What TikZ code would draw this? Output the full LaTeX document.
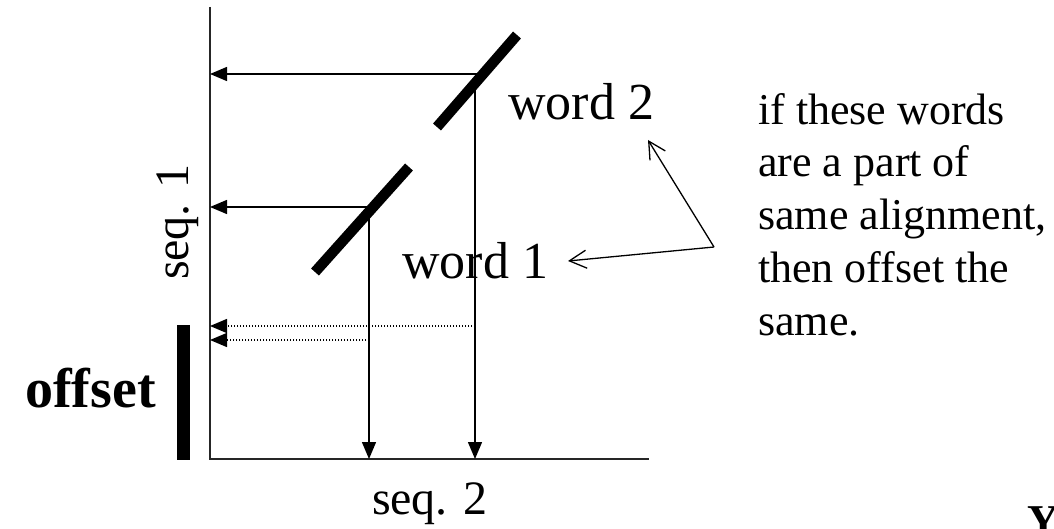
\documentclass[tikz,border=0pt]{standalone}
\usepackage{fontspec}
\setmainfont{Liberation Serif}
\usetikzlibrary{arrows.meta}
\tikzset{
  axisline/.style={line width=2pt, draw=black!85},
  arr/.style={line width=1.4pt, -{Triangle[length=17pt,width=14pt]}},
  dotarr/.style={line width=1.4pt, dash pattern=on 1.4pt off 1.6pt, -{Triangle[length=17pt,width=14pt]}},
  slash/.style={line width=10.5pt},
  note/.style={line width=1.3pt, -{Straight Barb[length=17pt,width=18pt,line width=1.3pt]}},
  lbl/.style={inner sep=0pt, anchor=base west},
}
\begin{document}
\begin{tikzpicture}[x=1pt,y=-1pt]
\useasboundingbox (0,0) rectangle (1054,529);
% axes
\coordinate (o) at (210,459);
\coordinate (ytop) at (210,7);
\coordinate (xend) at (649,459);
\draw[axisline] (ytop) -- (o) -- (xend);
% word hit points
\coordinate (w2) at (477,74);
\coordinate (w2v) at (475,80);
\coordinate (w1) at (368,207);
\coordinate (w1v) at (369,212);
% projections
\draw[arr] (w2) -- (w2 -| o);
\draw[arr] (w1) -- (w1 -| o);
\draw[arr] (w2v) -- (w2v |- o);
\draw[arr] (w1v) -- (w1v |- o);
\coordinate (d2) at (475,326);
\coordinate (d1) at (369,340);
\draw[dotarr] (d2) -- (d2 -| o);
\draw[dotarr] (d1) -- (d1 -| o);
% word slashes
\coordinate (s2a) at (437,127);
\coordinate (s2b) at (517,35);
\coordinate (s1a) at (315,272);
\coordinate (s1b) at (409,167);
\draw[slash] (s2a) -- (s2b);
\draw[slash] (s1a) -- (s1b);
% labels
\node[lbl, font=\fontsize{52}{60}\selectfont] (word2) at (508,120) {word 2};
\node[lbl, font=\fontsize{52}{60}\selectfont] (word1) at (402,278) {word 1};
\node[inner sep=0pt, anchor=base, rotate=90, font=\fontsize{48}{56}\selectfont] (seq1) at (188,222) {seq. 1};
\node[inner sep=0pt, anchor=base, font=\fontsize{48}{56}\selectfont] (seq2) at (430,514) {seq. 2};
\node[inner sep=0pt, anchor=base east, font=\fontsize{56}{64}\selectfont\bfseries] (offs) at (156,407) {offset};
\fill (177,325) rectangle (190,460);
\node[lbl, font=\fontsize{44}{52}\selectfont\bfseries] (Y) at (1027,535) {Y};
% note text
\node[lbl, font=\fontsize{44}{52}\selectfont] (p1) at (758,125) {if these words};
\node[lbl, font=\fontsize{44}{52}\selectfont] (p2) at (758,177) {are a part of};
\node[lbl, font=\fontsize{44}{52}\selectfont] (p3) at (758,230) {same alignment,};
\node[lbl, font=\fontsize{44}{52}\selectfont] (p4) at (758,283) {then offset the};
\node[lbl, font=\fontsize{44}{52}\selectfont] (p5) at (758,335) {same.};
% note arrows
\coordinate (apex) at (714,247);
\coordinate (t2) at (648,140);
\coordinate (t1) at (568,261);
\draw[note] (apex) -- (t2);
\draw[note] (apex) -- (t1);
\end{tikzpicture}
\end{document}
